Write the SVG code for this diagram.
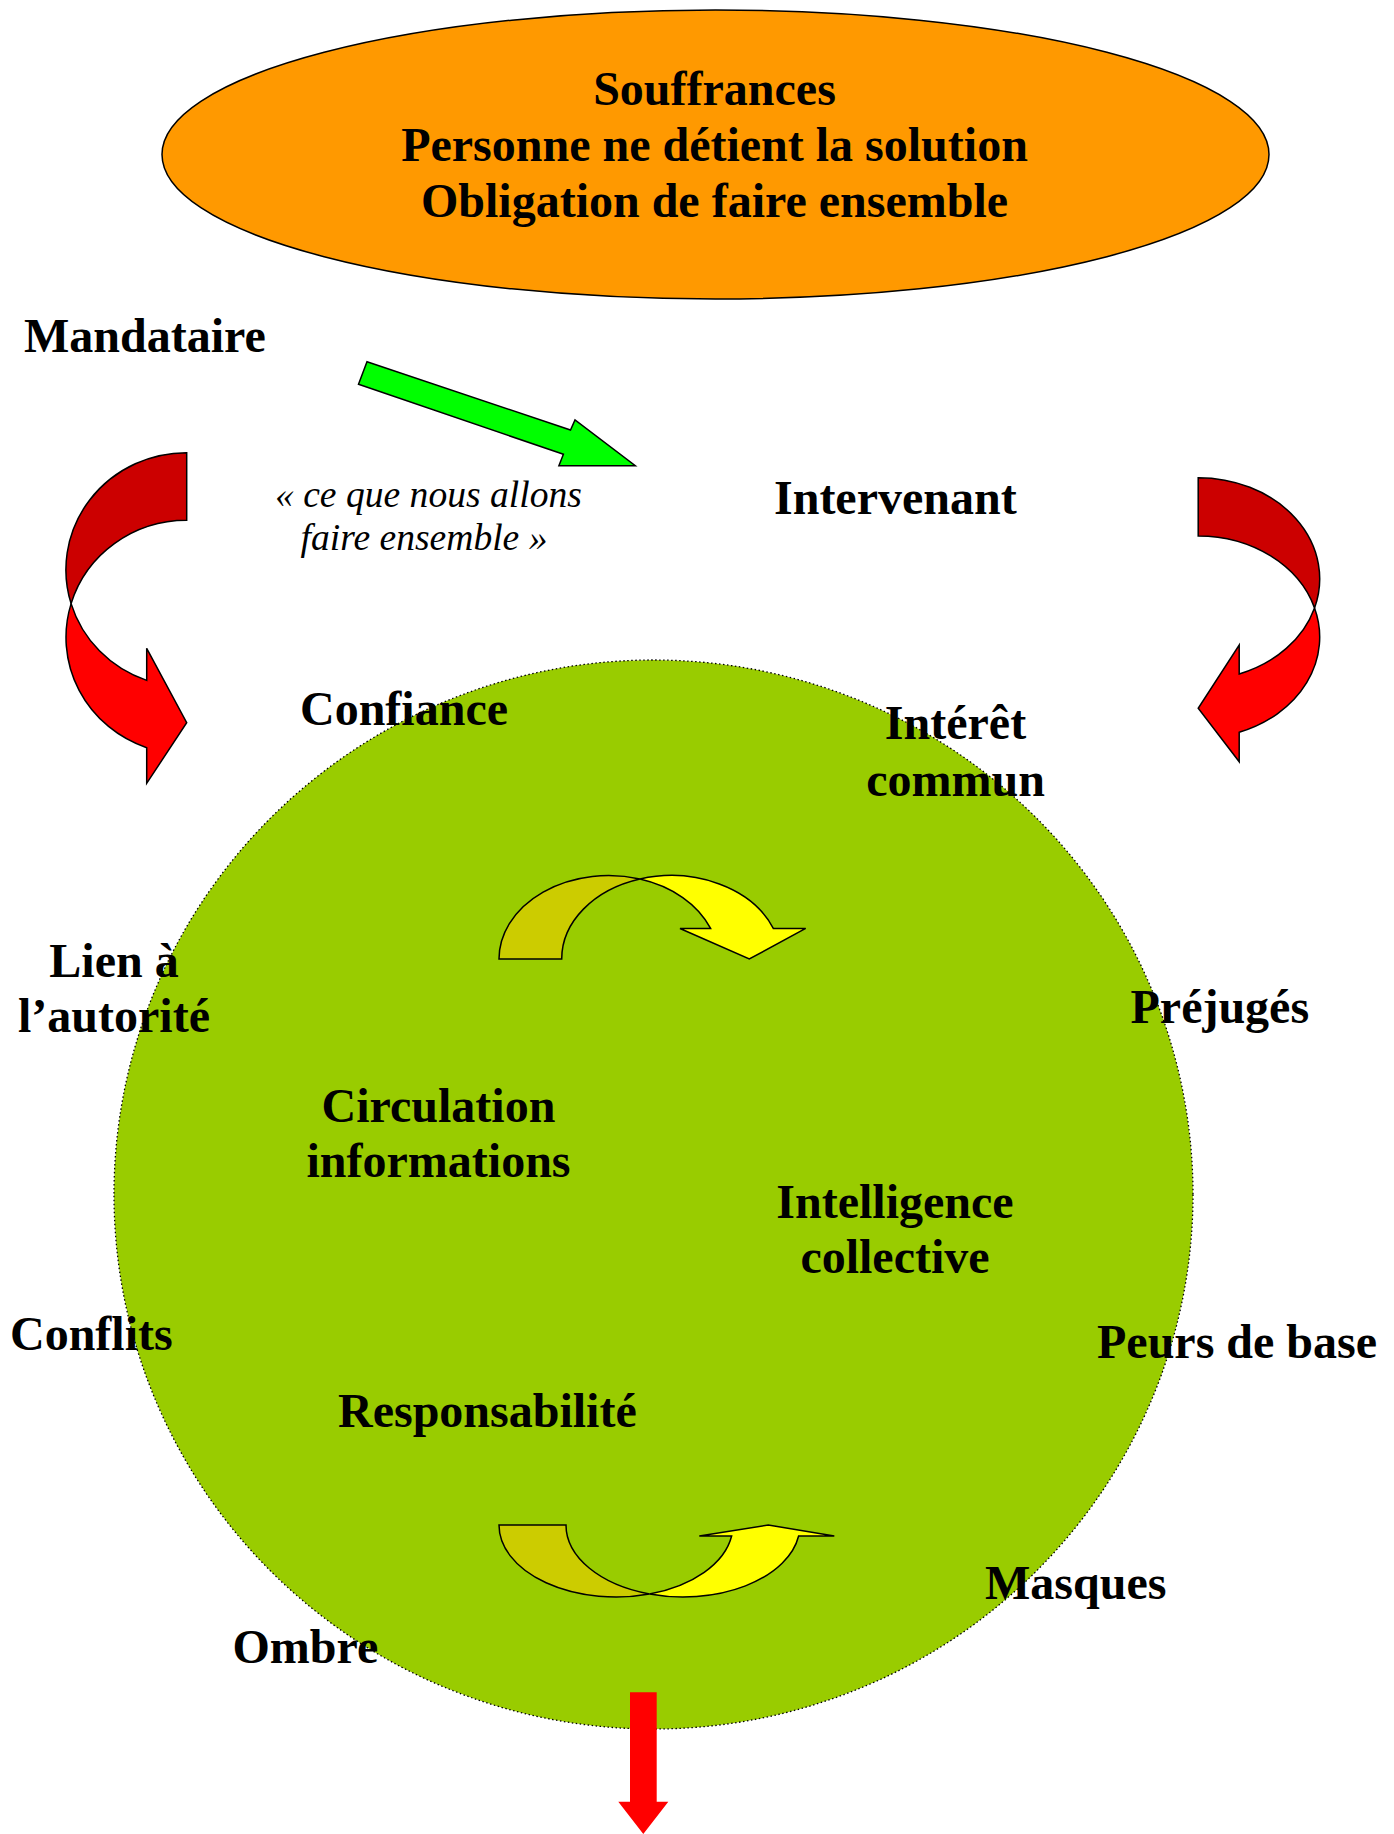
<svg xmlns="http://www.w3.org/2000/svg" width="1394" height="1834" viewBox="0 0 1394 1834">
<style>
.lbl{font-family:"Liberation Serif","Times New Roman",serif;font-weight:bold;font-size:48px;fill:#000}
.mid{text-anchor:middle}
.it{font-family:"Liberation Serif","Times New Roman",serif;font-style:italic;font-size:37.6px;fill:#000}
.sk{stroke:#000;stroke-width:1.5;stroke-linejoin:miter}
.dk-red{fill:#CC0000}
.red{fill:#FF0000}
.dk-yel{fill:#CCCC00}
.yel{fill:#FFFF00}
</style>
<rect width="1394" height="1834" fill="#fff"/>

<g id="circle">
  <ellipse cx="653.5" cy="1194.5" rx="539.5" ry="534.5" fill="#99CC00" stroke="#000" stroke-width="1.3" stroke-dasharray="1.5 2.5"/>
</g>

<g id="top-ellipse">
  <ellipse cx="715.5" cy="154.5" rx="553.5" ry="144.5" fill="#FF9900" stroke="#000" stroke-width="1.5"/>
  <text class="lbl mid" x="714.5" y="105">Souffrances</text>
  <text class="lbl mid" x="714.5" y="161">Personne ne détient la solution</text>
  <text class="lbl mid" x="714.5" y="217">Obligation de faire ensemble</text>
</g>

<g id="mandataire"><text class="lbl" x="24" y="352">Mandataire</text></g>
<g id="intervenant"><text class="lbl" x="774" y="514.3">Intervenant</text></g>
<g id="quote">
  <text class="it" x="275" y="507">« ce que nous allons</text>
  <text class="it" x="300.5" y="550">faire ensemble »</text>
</g>
<g id="confiance"><text class="lbl" x="300" y="725">Confiance</text></g>
<g id="interet-commun">
  <text class="lbl mid" x="955.5" y="739">Intérêt</text>
  <text class="lbl mid" x="955.5" y="796">commun</text>
</g>
<g id="lien-autorite">
  <text class="lbl mid" x="114" y="976.7">Lien à</text>
  <text class="lbl mid" x="114" y="1031.7">l’autorité</text>
</g>
<g id="prejuges"><text class="lbl" x="1130.5" y="1022.7">Préjugés</text></g>
<g id="circulation">
  <text class="lbl mid" x="438.5" y="1121.7">Circulation</text>
  <text class="lbl mid" x="438.5" y="1176.7">informations</text>
</g>
<g id="intelligence">
  <text class="lbl mid" x="895" y="1217.7">Intelligence</text>
  <text class="lbl mid" x="895" y="1272.7">collective</text>
</g>
<g id="conflits"><text class="lbl" x="10" y="1350">Conflits</text></g>
<g id="peurs"><text class="lbl" x="1097" y="1358.3">Peurs de base</text></g>
<g id="responsabilite"><text class="lbl" x="338" y="1427.3">Responsabilité</text></g>
<g id="masques"><text class="lbl" x="985" y="1599.3">Masques</text></g>
<g id="ombre"><text class="lbl" x="232.5" y="1663.3">Ombre</text></g>

<g id="connectors">
  <!-- green straight arrow -->
  <polygon class="sk" fill="#00FF00" points="367,361.7 570.5,430 575,420 635.3,465.7 558.9,465.7 563.4,454.3 358.5,384.3"/>

  <!-- left curved red arrow -->
  <path class="sk dk-red" d="M186.7,452.7 A120.7,117 0 0 0 71.1,603.65 A120.7,117 0 0 1 186.7,520.3 Z"/>
  <path class="sk red" d="M71.1,603.65 A120.7,117 0 0 0 146.7,747.69 L146.7,783.3 L186.7,722.7 L146.7,648.3 L146.7,680.39 A120.7,117 0 0 1 71.1,603.65 Z"/>

  <!-- right curved red arrow -->
  <path class="sk dk-red" d="M1198.2,477.7 A121.5,101.1 0 0 1 1314.54,607.95 A121.5,101.1 0 0 0 1198.2,536 Z"/>
  <path class="sk red" d="M1314.54,607.95 A121.5,101.1 0 0 1 1239.2,732.27 L1239.2,761.7 L1198.2,708.3 L1239.2,645 L1239.2,673.97 A121.5,101.1 0 0 0 1314.54,607.95 Z"/>

  <!-- top yellow curved arrow -->
  <path class="sk dk-yel" d="M499,959 A109.6,83.5 0 0 1 639.95,878.99 A109.6,83.5 0 0 0 561.7,959 Z"/>
  <path class="sk yel" d="M639.95,878.99 A109.6,83.5 0 0 1 773.3,928.45 L805.7,928.45 L749.3,959 L680,928.45 L710.6,928.45 A109.6,83.5 0 0 0 639.95,878.99 Z"/>

  <!-- bottom yellow curved arrow -->
  <path class="sk dk-yel" d="M499,1525 A117,72 0 0 0 649.5,1593.99 A117,72 0 0 1 566,1525 Z"/>
  <path class="sk yel" d="M649.5,1593.99 A117,72 0 0 0 798.63,1536 L834.3,1536 L768.3,1525 L699.3,1536 L731.63,1536 A117,72 0 0 1 649.5,1593.99 Z"/>

  <!-- red down arrow -->
  <polygon fill="#FF0000" points="630,1692.3 656.7,1692.3 656.7,1801.7 668.3,1801.7 643.3,1834 618.3,1801.7 630,1801.7"/>
</g>
</svg>
